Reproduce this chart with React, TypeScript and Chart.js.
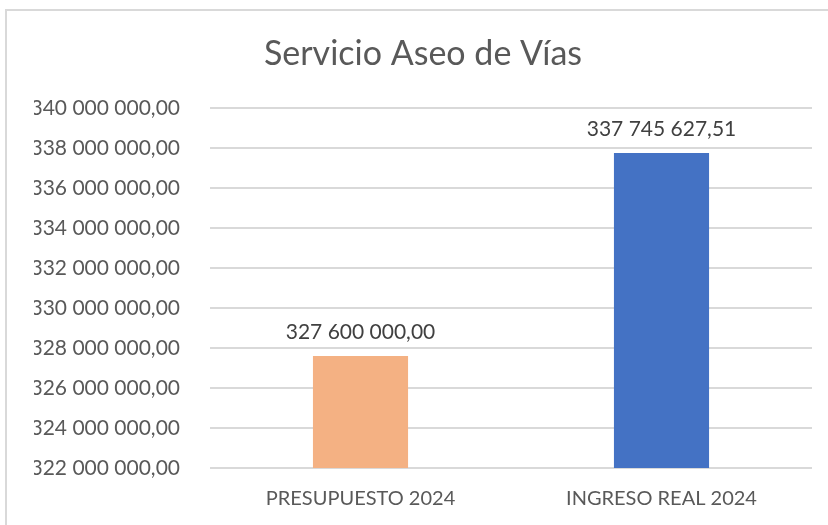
import React, { useEffect, useRef } from "react";
import { Chart, registerables } from "chart.js";

Chart.register(...registerables);

const categories = ["PRESUPUESTO 2024", "INGRESO REAL 2024"];
const values = [327600000.0, 337745627.51];
const barColors = ["#F4B183", "#4472C4"];
const chartTitle = "Servicio Aseo de Vías";
const yMin = 322000000;
const yMax = 340000000;
const yStep = 2000000;

const FONT = "Lato, 'Open Sans', sans-serif";
const TEXT = "#595959";

function fmt(v: number): string {
  const [i, d] = v.toFixed(2).split(".");
  return i.replace(/\B(?=(\d{3})+(?!\d))/g, " ") + "," + d;
}

const dataLabelPlugin = {
  id: "dataLabels",
  afterDatasetsDraw(chart: any) {
    const ctx = chart.ctx;
    const meta = chart.getDatasetMeta(0);
    ctx.save();
    ctx.font = `21px ${FONT}`;
    ctx.fillStyle = "#404040";
    ctx.textAlign = "center";
    ctx.textBaseline = "middle";
    meta.data.forEach((bar: any, i: number) => {
      ctx.fillText(fmt(values[i]), bar.x, bar.y - 24);
    });
    ctx.restore();
  },
};

export default function App() {
  const ref = useRef<HTMLCanvasElement | null>(null);
  useEffect(() => {
    if (!ref.current) return;
    const chart = new Chart(ref.current, {
      type: "bar",
      data: {
        labels: categories,
        datasets: [
          {
            data: values,
            backgroundColor: barColors,
            barPercentage: 0.316,
            categoryPercentage: 1,
          },
        ],
      },
      options: {
        responsive: false,
        animation: false,
        layout: { padding: { left: 34, right: 16, top: 0, bottom: 0 } },
        plugins: {
          legend: { display: false },
          tooltip: { enabled: false },
          title: {
            display: true,
            text: chartTitle,
            color: TEXT,
            font: { family: FONT, size: 34, weight: "normal" },
            padding: { top: 34, bottom: 33 },
          },
        },
        scales: {
          x: {
            grid: { display: false, drawTicks: false },
            border: { display: false },
            ticks: {
              color: TEXT,
              font: { family: FONT, size: 20 },
              padding: 19,
            },
            afterFit(scale: any) {
              scale.height = 57;
            },
          },
          y: {
            min: yMin,
            max: yMax,
            grid: { color: "#d9d9d9", lineWidth: 2, drawTicks: false },
            border: { display: false },
            ticks: {
              stepSize: yStep,
              color: TEXT,
              font: { family: FONT, size: 21 },
              padding: 30,
              callback: (v: any) => fmt(Number(v)),
            },
            afterFit(scale: any) {
              scale.width = 176;
            },
          },
        },
      },
      plugins: [dataLabelPlugin],
    });
    return () => chart.destroy();
  }, []);
  return (
    <div style={{ position: "absolute", left: 0, top: 0, width: 828, height: 525, overflow: "hidden", background: "#fff" }}>
      <div
        style={{
          position: "absolute",
          left: 5,
          top: 9,
          width: 840,
          height: 540,
          border: "2px solid #d9d9d9",
          boxSizing: "border-box",
        }}
      />
      <canvas ref={ref} width={828} height={525} style={{ position: "absolute", left: 0, top: 0 }} />
    </div>
  );
}
